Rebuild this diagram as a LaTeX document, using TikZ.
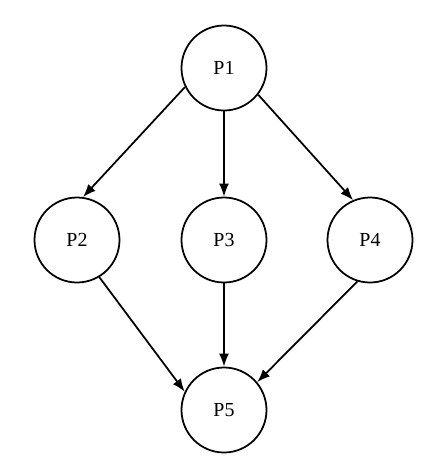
\documentclass[tikz,border=0pt]{standalone}
\usepackage{fontspec}
\setmainfont{Liberation Serif}
\usetikzlibrary{arrows.meta}

\begin{document}
\begin{tikzpicture}[x=0.03cm, y=-0.03cm, ->, >={Latex[length=11pt,width=8.5pt]}, line width=1.5pt,
  every node/.style={font=\fontsize{17}{20}\selectfont},
  proc/.style={circle, draw, line width=1.5pt, minimum size=2.55cm, inner sep=0pt}]
\path[use as bounding box] (0,0) rectangle (445,464);
\node[proc] (P1) at (224,68) {P1};
\node[proc] (P2) at (77,240) {P2};
\node[proc] (P3) at (224,240) {P3};
\node[proc] (P4) at (370,240) {P4};
\node[proc] (P5) at (224,410) {P5};
\path (P1.206) edge (P2.82);
\path (P1) edge (P3);
\path (P1.322) edge (P4.113);
\path (P2.301) edge (P5.155);
\path (P3) edge (P5);
\path (P4.253) edge (P5.40);
\end{tikzpicture}
\end{document}
